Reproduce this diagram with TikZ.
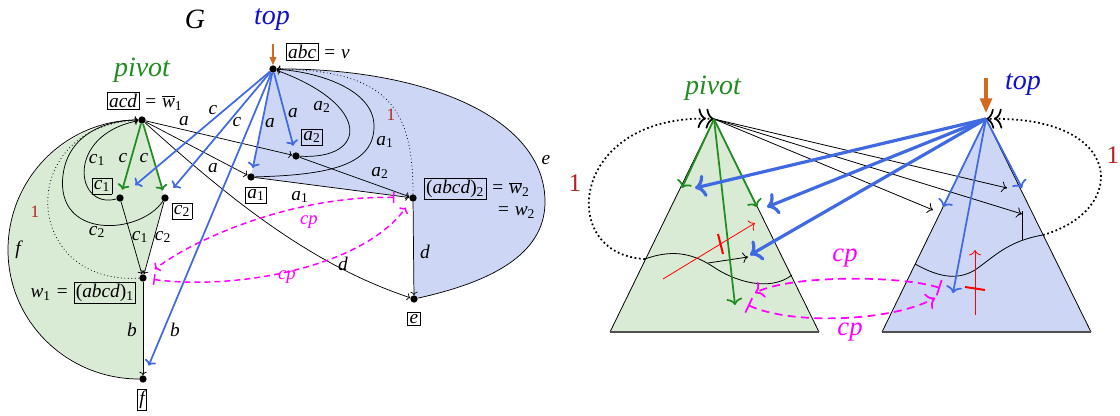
\documentclass[tikz,border=0pt]{standalone}
\usepackage{fontspec}
\setmainfont{Liberation Serif}
\usetikzlibrary{arrows.meta}
\definecolor{royal}{RGB}{65,105,225}
\definecolor{topblue}{RGB}{15,15,205}
\definecolor{pivgreen}{RGB}{34,139,34}
\definecolor{greenfill}{RGB}{217,234,213}
\definecolor{bluefill}{RGB}{205,215,245}
\definecolor{mag}{RGB}{255,0,255}
\definecolor{dred}{RGB}{178,34,34}
\definecolor{orng}{RGB}{210,105,30}
\definecolor{basegray}{RGB}{80,80,80}
\setlength{\fboxsep}{1.2pt}
\setlength{\fboxrule}{0.5pt}
\newcommand\lsb[1]{\textsubscript{\upshape #1}}
\newcommand\wbar{\ensuremath{\overline{\mbox{\itshape w}}}}
\newcommand\bx[1]{\fbox{#1}}
\tikzset{
  dot/.style={circle,fill=black,inner sep=0pt,minimum size=5.5pt},
  lab/.style={font=\fontsize{14.5}{16}\selectfont\itshape,inner sep=0.5pt},
  biglab/.style={font=\fontsize{21}{24}\selectfont\itshape,inner sep=0pt},
  redone/.style={text=dred,font=\fontsize{13}{15}\selectfont,inner sep=0pt},
  bigone/.style={text=dred,font=\fontsize{19}{22}\selectfont,inner sep=0pt},
  cplab/.style={text=mag,font=\fontsize{14}{16}\selectfont\itshape,inner sep=0pt},
  bigcp/.style={text=mag,font=\fontsize{20}{24}\selectfont\itshape,inner sep=0pt},
  blk/.style={line width=0.55pt,-{To[length=2.5pt,width=5.5pt]}},
  plain/.style={line width=0.55pt},
  ldots/.style={line width=0.6pt,dotted},
  blu/.style={royal,line width=1.3pt,-{To[length=4pt,width=9pt]}},
  grn/.style={pivgreen,line width=1.3pt,-{To[length=4pt,width=9pt]}},
  cpe/.style={mag,line width=1.1pt,dash pattern=on 4.5pt off 3pt,{Bar[width=8pt]}-{To[length=3.5pt,width=8pt]}},
  rblk/.style={line width=0.6pt,-{To[length=4pt,width=8pt]}},
  rblu/.style={royal,line width=2.4pt,-{To[length=8pt,width=17pt]}},
  rbluthin/.style={royal,line width=1.3pt,-{To[length=5pt,width=12pt]}},
  rgrn/.style={pivgreen,line width=1.3pt,-{To[length=5pt,width=12pt]}},
  rdot/.style={line width=1.3pt,dash pattern=on 1.3pt off 2pt,-{To[length=6pt,width=15pt,line width=1.3pt] To[length=6pt,width=15pt,line width=1.3pt]}},
  redarr/.style={red,line width=0.6pt,-{To[length=4pt,width=9pt]}},
  redbar/.style={red,line width=1.5pt},
  rcp/.style={mag,line width=1.3pt,dash pattern=on 6pt off 4pt,{Bar[width=12pt]}-{To[length=6pt,width=13pt]}},
  tri/.style={line width=0.6pt},
  base/.style={basegray,line width=1.3pt},
}
\begin{document}
\begin{tikzpicture}[x=0.75pt,y=-0.75pt]
\useasboundingbox (0,0) rectangle (1120,416);
% ---------- left graph coordinates
\coordinate (V) at (273,69);
\coordinate (P) at (142,120);
\coordinate (C1) at (120,198);
\coordinate (C2) at (165,198);
\coordinate (A1) at (251,177);
\coordinate (A2) at (296,156);
\coordinate (W2) at (413,198);
\coordinate (W1) at (143,278);
\coordinate (E) at (414,299);
\coordinate (F) at (143,379);
\coordinate (fl) at (8,250);
\coordinate (er) at (545,200);
% fills
\fill[greenfill] (P) -- (C2) -- (W1) -- (F) to[out=180,in=270] (fl) to[out=90,in=180] (P);
\fill[bluefill] (V) -- (A1) -- (W2) -- (E) .. controls (500,280) and (546,250) .. (er) .. controls (543,115) and (420,68) .. (V);
% dots
\node[dot] (v) at (V) {};
\node[dot] (p) at (P) {};
\node[dot] (c1) at (C1) {};
\node[dot] (c2) at (C2) {};
\node[dot] (a1) at (A1) {};
\node[dot] (a2) at (A2) {};
\node[dot] (w2) at (W2) {};
\node[dot] (w1) at (W1) {};
\node[dot] (e) at (E) {};
\node[dot] (f) at (F) {};
% black edges
\draw[blk] (f) to[out=180,in=270] (fl) to[out=90,in=180] (p);
\draw[blk] (e) .. controls (500,280) and (546,250) .. (er) .. controls (543,115) and (420,68) .. (v);
\draw[blk] (p) -- (a2);
\draw[blk] (p) -- (a1);
\draw[blk] (p) .. controls (232,201) and (312,265) .. (e);
\draw[blk] (a1) -- (w2);
\draw[blk] (a2) -- (w2);
\draw[blk] (a2) .. controls (368,160) and (372,105) .. (v);
\draw[blk] (a1) .. controls (330,175) and (375,165) .. (374,125) .. controls (373,90) and (320,72) .. (v);
\draw[ldots] (w2) .. controls (413,110) and (390,70) .. (v);
\draw[blk] (c1) .. controls (75,210) and (65,135) .. (p);
\draw[blk] (c2) .. controls (140,235) and (55,240) .. (63,175) .. controls (68,135) and (105,120) .. (p);
\draw[ldots] (w1) .. controls (20,285) and (15,125) .. (p);
\draw[blk] (c1) -- (w1);
\draw[blk] (c2) -- (w1);
\draw[blk] (w1) -- (f);
\draw[blk] (w2) -- (e);
% green
\draw[grn,shorten >=3.5pt] (p) -- (c1);
\draw[grn,shorten >=3pt] (p) -- (c2);
% blue
\draw[blu,shorten >=12pt] (v) -- (c1);
\draw[blu,shorten >=7pt] (v) -- (c2);
\draw[blu,shorten >=4pt] (v) -- (a1);
\draw[blu,shorten >=5pt] (v) -- (a2);
\draw[blu,shorten >=8pt] (v) -- (f);
% orange
\coordinate (vo) at (273,44);
\draw[orng,line width=1.1pt,-{Triangle[length=6pt,width=5pt]}] (vo) -- (v);
% cp
\draw[cpe,shorten <=11pt,shorten >=8pt] (w2) .. controls (300,195) and (200,235) .. (w1);
\draw[cpe,shorten <=5pt,shorten >=6pt] (w1) .. controls (230,290) and (360,270) .. (w2);
% node labels
\node[biglab] (G) at (195,19) {G};
\node[biglab,text=topblue] (toplab) at (272,20) {top};
\node[biglab,text=pivgreen] (pivlab) at (142,70) {pivot};
\node[lab,anchor=west] (vl) at (285,52) {\bx{abc} = v};
\node[lab,anchor=west] (pl) at (106,101) {\bx{acd} = \wbar\lsb{1}};
\node[lab] (c1l) at (102,186) {\bx{c\lsb{1}}};
\node[lab] (c2l) at (182,211) {\bx{c\lsb{2}}};
\node[lab] (a1l) at (256,195) {\bx{a\lsb{1}}};
\node[lab] (a2l) at (312,137) {\bx{a\lsb{2}}};
\node[lab,anchor=west] (w2l) at (423,189) {\bx{\textup{(}abcd\textup{)}\lsb{2}} = \wbar\lsb{2}};
\node[lab,anchor=west] (w2m) at (496,213) {= w\lsb{2}};
\node[lab,anchor=east] (w1l) at (137,293) {w\lsb{1} = \bx{\textup{(}abcd\textup{)}\lsb{1}}};
\node[lab] (el) at (414,319) {\bx{e}};
\node[lab] (fbl) at (142,400) {\bx{f}};
% edge labels
\node[lab] (l1) at (184,121) {a};
\node[lab] (l2) at (213,168) {a};
\node[lab] (l3) at (213,110) {c};
\node[lab] (l4) at (237,122) {c};
\node[lab] (l5) at (270,123) {a};
\node[lab] (l6) at (293,113) {a};
\node[lab] (l7) at (322,107) {a\lsb{2}};
\node[lab] (l8) at (385,142) {a\lsb{1}};
\node[redone] (l9) at (391,115) {1};
\node[lab] (l10) at (380,173) {a\lsb{2}};
\node[lab] (l11) at (300,197) {a\lsb{1}};
\node[lab] (l12) at (546,160) {e};
\node[lab] (l13) at (425,252) {d};
\node[lab] (l14) at (343,264) {d};
\node[cplab] (l15) at (309,222) {cp};
\node[cplab] (l16) at (287,277) {cp};
\node[lab] (l17) at (123,158) {c};
\node[lab] (l18) at (144,158) {c};
\node[lab] (l19) at (97,160) {c\lsb{1}};
\node[lab] (l20) at (97,232) {c\lsb{2}};
\node[redone] (l21) at (35,212) {1};
\node[lab] (l22) at (18,250) {f};
\node[lab] (l23) at (140,237) {c\lsb{1}};
\node[lab] (l24) at (163,237) {c\lsb{2}};
\node[lab] (l25) at (132,330) {b};
\node[lab] (l26) at (175,330) {b};
% ---------- right picture
\coordinate (RP) at (714,119);
\coordinate (Lbl) at (610,332);
\coordinate (Lbr) at (819,332);
\coordinate (RQ) at (986,119);
\coordinate (Tbl) at (882,332);
\coordinate (Tbr) at (1091,332);
\fill[greenfill] (RP) -- (Lbl) -- (Lbr) -- cycle;
\fill[bluefill] (RQ) -- (Tbl) -- (Tbr) -- cycle;
\draw[tri] (Lbl) -- (RP) -- (Lbr);
\draw[tri] (Tbl) -- (RQ) -- (Tbr);
\draw[base] (Lbl) -- (Lbr);
\draw[base] (Tbl) -- (Tbr);
% waves
\coordinate (lw1) at (645,259);
\coordinate (lw2) at (792,275);
\coordinate (tw1) at (915,264);
\coordinate (tw2) at (1043,235);
\coordinate (tw3) at (1022,240);
\draw[tri] (lw1) .. controls (670,250) and (690,252) .. (712,266) .. controls (735,282) and (770,292) .. (lw2);
\draw[tri] (tw1) .. controls (935,275) and (955,282) .. (975,270) .. controls (995,256) and (1008,241) .. (tw2);
% dotted ones
\draw[rdot] (lw1) .. controls (555,255) and (570,112) .. (RP);
\draw[rdot] (tw2) .. controls (1130,210) and (1125,115) .. (RQ);
\node[bigone] (r1a) at (575,183) {1};
\node[bigone] (r1b) at (1113,155) {1};
% black from pivot
\coordinate (k1) at (933,210);
\coordinate (k2) at (1007,188);
\coordinate (k3) at (1022,214);
\draw[rblk] (RP) -- (k1);
\draw[rblk] (RP) -- (k2);
\draw[rblk] (RP) -- (k3);
\coordinate (k4) at (1022,211);
\draw[tri] (tw3) -- (k4);
\coordinate (s1) at (708,263);
\coordinate (s2) at (748,257);
\draw[rblk] (s1) -- (s2);
% green
\coordinate (g1) at (682,188);
\coordinate (g2) at (757,207);
\coordinate (g3) at (735,305);
\draw[rgrn] (RP) -- (g1);
\draw[rgrn] (RP) -- (g2);
\draw[rgrn] (RP) -- (g3);
% blue thin in top triangle
\coordinate (b1) at (943,207);
\coordinate (b2) at (1022,188);
\coordinate (b3) at (953,293);
\draw[rbluthin] (RQ) -- (b1);
\draw[rbluthin] (RQ) -- (b2);
\draw[rbluthin] (RQ) -- (b3);
% blue thick
\coordinate (t1) at (695,188);
\coordinate (t2) at (767,207);
\coordinate (t3) at (750,255);
\draw[rblu] (RQ) -- (t1);
\draw[rblu] (RQ) -- (t2);
\draw[rblu] (RQ) -- (t3);
% red
\coordinate (ra1) at (663,279);
\coordinate (ra2) at (755,223);
\draw[redarr] (ra1) -- (ra2);
\coordinate (rb1) at (718,234);
\coordinate (rb2) at (723,254);
\draw[redbar] (rb1) -- (rb2);
\coordinate (ra3) at (975,315);
\coordinate (ra4) at (975,250);
\draw[redarr] (ra3) -- (ra4);
\coordinate (rb3) at (965,287);
\coordinate (rb4) at (985,290);
\draw[redbar] (rb3) -- (rb4);
% orange
\coordinate (qo1) at (986,78);
\coordinate (qo2) at (986,113);
\draw[orng,line width=2.3pt,-{Triangle[length=11pt,width=9pt]}] (qo1) -- (qo2);
% cp
\coordinate (m1) at (940,288);
\coordinate (m2) at (755,293);
\coordinate (m3) at (748,305);
\coordinate (m4) at (935,298);
\draw[rcp] (m1) .. controls (900,275) and (790,275) .. (m2);
\draw[rcp] (m3) .. controls (790,325) and (890,322) .. (m4);
\node[bigcp] (rcp1) at (845,258) {cp};
\node[bigcp] (rcp2) at (850,332) {cp};
\node[biglab,text=pivgreen] (rpiv) at (713,88) {pivot};
\node[biglab,text=topblue] (rtop) at (1023,85) {top};
\end{tikzpicture}
\end{document}
